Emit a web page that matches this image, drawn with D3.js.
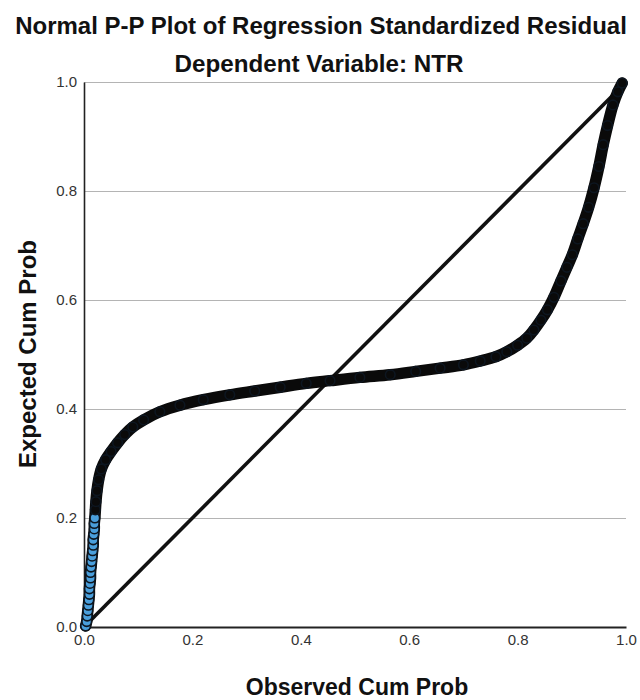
<!DOCTYPE html>
<html>
<head>
<meta charset="utf-8">
<script src="https://cdn.jsdelivr.net/npm/d3@7"></script>
<style>
  html, body { margin: 0; padding: 0; background: #fff; }
  svg { display: block; font-family: "Liberation Sans", Arial, sans-serif; }
</style>
</head>
<body>
<svg id="chart" width="640" height="700"></svg>
<script>
// ---- data ----
const title = "Normal P-P Plot of Regression Standardized Residual";
const subtitle = "Dependent Variable: NTR";
const xTitle = "Observed Cum Prob";
const yTitle = "Expected Cum Prob";
const xTicks = [0, 0.2, 0.4, 0.6, 0.8, 1.0];
const yTicks = [0, 0.2, 0.4, 0.6, 0.8, 1.0];
const observedCumProb = [0.003,0.005,0.006,0.007,0.008,0.009,0.010,0.010,0.011,0.012,0.012,0.013,0.014,0.015,0.016,0.017,0.017,0.018,0.019,0.019,0.020,0.021,0.022,0.024,0.027,0.032,0.040,0.050,0.062,0.075,0.090,0.110,0.140,0.177,0.220,0.269,0.315,0.362,0.410,0.454,0.509,0.565,0.612,0.657,0.700,0.731,0.760,0.780,0.800,0.817,0.830,0.843,0.855,0.867,0.880,0.891,0.901,0.911,0.921,0.931,0.941,0.950,0.958,0.966,0.976,0.985,0.993];
const expectedCumProb = [0.002,0.010,0.020,0.030,0.040,0.050,0.060,0.070,0.080,0.090,0.100,0.110,0.120,0.130,0.140,0.150,0.160,0.170,0.180,0.190,0.200,0.215,0.230,0.250,0.270,0.290,0.307,0.322,0.338,0.353,0.367,0.380,0.395,0.407,0.417,0.426,0.433,0.440,0.447,0.452,0.458,0.463,0.469,0.475,0.481,0.488,0.496,0.505,0.517,0.530,0.545,0.563,0.582,0.605,0.635,0.660,0.683,0.712,0.740,0.770,0.806,0.845,0.885,0.920,0.958,0.982,0.998];
const refLine = [[0, 0], [1, 1]];

const points = observedCumProb.map((x, i) => ({x, y: expectedCumProb[i]}));

// ---- layout ----
const svg = d3.select("#chart");
const margin = {left: 84, right: 14, top: 82, bottom: 73};
const W = 640, H = 700;
const iw = W - margin.left - margin.right;
const ih = H - margin.top - margin.bottom;

const x = d3.scaleLinear().domain([0, 1]).range([margin.left, margin.left + iw]);
const y = d3.scaleLinear().domain([0, 1]).range([margin.top + ih, margin.top]);

// titles
svg.append("text").attr("x", 321).attr("y", 34).attr("text-anchor", "middle")
  .attr("font-size", 24).attr("font-weight", "bold").attr("fill", "#111").text(title);
svg.append("text").attr("x", 319).attr("y", 72).attr("text-anchor", "middle")
  .attr("font-size", 24.2).attr("font-weight", "bold").attr("fill", "#111").text(subtitle);

// gridlines
svg.append("g").attr("transform", `translate(${margin.left},0)`)
  .call(d3.axisLeft(y).tickValues(yTicks.slice(1)).tickSize(-iw).tickFormat(""))
  .call(g => g.select(".domain").remove())
  .call(g => g.selectAll("line").attr("stroke", "#b4b4b4").attr("stroke-width", 1.2));

// y axis
const yAxis = svg.append("g").attr("transform", `translate(${margin.left},0)`)
  .call(d3.axisLeft(y).tickValues(yTicks).tickSize(0).tickPadding(7).tickFormat(d3.format(".1f")));
yAxis.select(".domain").attr("stroke", "#222").attr("stroke-width", 1.6);
yAxis.selectAll("text").attr("font-size", 15).attr("fill", "#333").attr("font-family", "Liberation Sans, Arial, sans-serif");

// x axis
const xAxis = svg.append("g").attr("transform", `translate(0,${margin.top + ih})`)
  .call(d3.axisBottom(x).tickValues(xTicks).tickSize(0).tickPadding(7).tickFormat(d3.format(".1f")));
xAxis.select(".domain").attr("stroke", "#222").attr("stroke-width", 1.8);
xAxis.selectAll("text").attr("font-size", 15).attr("fill", "#333").attr("font-family", "Liberation Sans, Arial, sans-serif");

// axis titles
svg.append("text").attr("x", 357).attr("y", 695).attr("text-anchor", "middle")
  .attr("font-size", 23).attr("font-weight", "bold").attr("fill", "#111").text(xTitle);
svg.append("text").attr("transform", "translate(36,354) rotate(-90)").attr("text-anchor", "middle")
  .attr("font-size", 24).attr("font-weight", "bold").attr("fill", "#111").text(yTitle);

// reference diagonal
svg.append("path")
  .attr("d", d3.line().x(d => x(d[0])).y(d => y(d[1]))(refLine))
  .attr("stroke", "#111").attr("stroke-width", 3.6).attr("fill", "none");

// dense band of points
svg.append("path")
  .attr("d", d3.line().x(d => x(d.x)).y(d => y(d.y)).curve(d3.curveCatmullRom.alpha(0.5))(points))
  .attr("stroke", "#0a0a0a").attr("stroke-width", 11.5).attr("fill", "none")
  .attr("stroke-linecap", "round").attr("stroke-linejoin", "round");

svg.append("g").selectAll("circle").data(points).join("circle")
  .attr("cx", d => x(d.x)).attr("cy", d => y(d.y)).attr("r", 4.8)
  .attr("fill", d => d.y < 0.21 ? "#4a9fdc" : "#0a0a0a")
  .attr("stroke", "#0d1620").attr("stroke-width", 1.6);
</script>
</body>
</html>
